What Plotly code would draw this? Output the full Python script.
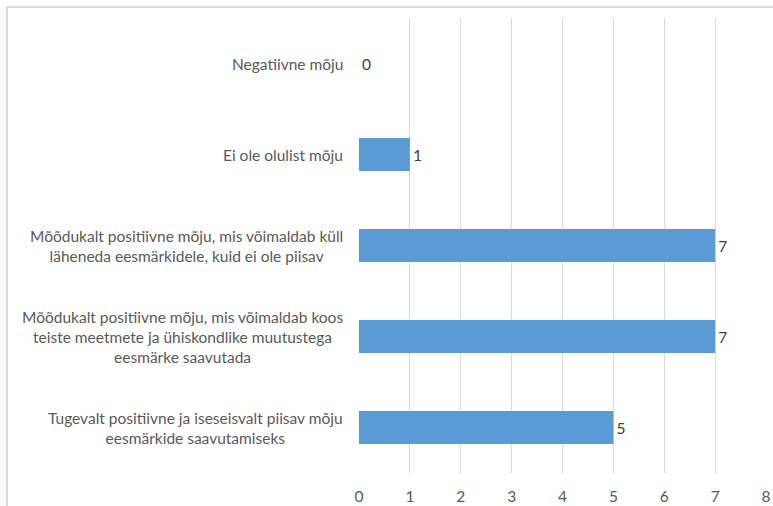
import plotly.graph_objects as go

categories = [
    "Negatiivne mõju",
    "Ei ole olulist mõju",
    "Mõõdukalt positiivne mõju, mis võimaldab küll<br>läheneda eesmärkidele, kuid ei ole piisav",
    "Mõõdukalt positiivne mõju, mis võimaldab koos<br>teiste meetmete ja ühiskondlike muutustega<br>eesmärke saavutada",
    "Tugevalt positiivne ja iseseisvalt piisav mõju<br>eesmärkide saavutamiseks",
]
values = [0, 1, 7, 7, 5]
x_ticks = list(range(0, 9))

font_family = "Lato, Carlito, 'Open Sans', sans-serif"
grey = "#595959"
frame = "#d9d9d9"

fig = go.Figure()
fig.add_trace(
    go.Bar(
        y=categories,
        x=values,
        orientation="h",
        marker=dict(color="#5B9BD5", line=dict(width=0)),
        width=0.36,
        text=[str(v) for v in values],
        textposition="outside",
        cliponaxis=False,
        textfont=dict(family=font_family, size=15.5, color="#404040"),
        hoverinfo="skip",
    )
)

# category labels as annotations so multi-line text is centred
for cat in categories:
    fig.add_annotation(
        x=0, xref="paper", y=cat, yref="y",
        text=cat, showarrow=False,
        xanchor="right", xshift=-14, align="center",
        font=dict(family=font_family, size=15.5, color=grey),
    )

# chart frame: only the top and left edges fall inside the picture
fig.add_shape(type="line", xref="paper", yref="paper",
              x0=-0.865, x1=1.05, y0=1.024, y1=1.024,
              line=dict(color=frame, width=2), layer="above")
fig.add_shape(type="line", xref="paper", yref="paper",
              x0=-0.865, x1=-0.865, y0=-0.2, y1=1.024,
              line=dict(color=frame, width=2), layer="above")

fig.update_layout(
    width=773,
    height=506,
    margin=dict(l=359, r=7, t=18, b=33),
    paper_bgcolor="white",
    plot_bgcolor="white",
    showlegend=False,
    font=dict(family=font_family, size=15.5, color=grey),
    xaxis=dict(
        range=[0, 8],
        tickvals=x_ticks,
        showgrid=True,
        gridcolor="#d9d9d9",
        gridwidth=1,
        zeroline=False,
        showline=False,
        ticks="",
        automargin=False,
        ticklabelstandoff=12,
        tickfont=dict(family=font_family, size=15.5, color=grey),
    ),
    yaxis=dict(
        autorange="reversed",
        showticklabels=False,
        showgrid=False,
        zeroline=False,
        showline=False,
        ticks="",
    ),
)

fig.write_html("out.html", config={"displayModeBar": False})

# drop the browser's default body margin so the figure sits at the page corner
with open("out.html", encoding="utf-8") as f:
    html = f.read()
html = html.replace("<body>", '<body style="margin:0">', 1)
with open("out.html", "w", encoding="utf-8") as f:
    f.write(html)
